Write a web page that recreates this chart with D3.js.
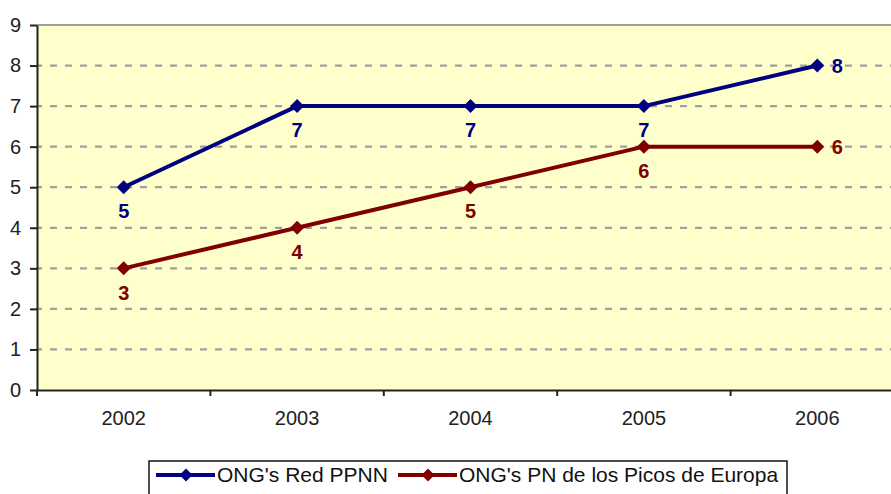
<!doctype html>
<html>
<head>
<meta charset="utf-8">
<script src="https://cdnjs.cloudflare.com/ajax/libs/d3/7.8.5/d3.min.js"></script>
<style>
  body { margin: 0; background: #fff; }
  svg { display: block; font-family: "Liberation Sans", Arial, sans-serif; }
</style>
</head>
<body>
<svg width="891" height="494"></svg>
<script>
var years = ["2002", "2003", "2004", "2005", "2006"];
var redPPNN = [5, 7, 7, 7, 8];
var picosEuropa = [3, 4, 5, 6, 6];
var seriesNames = ["ONG's Red PPNN", "ONG's PN de los Picos de Europa"];
var seriesColors = ["#000080", "#800000"];
var yTicks = [0, 1, 2, 3, 4, 5, 6, 7, 8, 9];

var svg = d3.select("svg");

// plot box (right side runs past the page edge, like the original)
var plotLeft = 37, plotRight = 904, plotTop = 25, plotBottom = 390;

var x = d3.scaleBand().domain(years).range([plotLeft, plotRight]);
var y = d3.scaleLinear().domain([0, 9]).range([plotBottom, plotTop]);

// plot background
svg.append("rect")
  .attr("x", plotLeft).attr("y", plotTop)
  .attr("width", plotRight - plotLeft).attr("height", plotBottom - plotTop)
  .style("fill", "#FFFFCC");

// grid
svg.append("g").selectAll("line")
  .data(yTicks.filter(d => d > 0 && d < 9))
  .enter().append("line")
  .attr("x1", plotLeft).attr("x2", plotRight)
  .attr("y1", d => y(d)).attr("y2", d => y(d))
  .style("stroke", "#A0A0A0")
  .style("stroke-width", 2.2)
  .style("stroke-dasharray", "7,8")
  .style("stroke-dashoffset", 2);

svg.append("line")
  .attr("x1", plotLeft).attr("x2", plotRight)
  .attr("y1", y(9)).attr("y2", y(9))
  .style("stroke", "#A0A0A0").style("stroke-width", 2);

// y axis
var yAxis = svg.append("g")
  .attr("transform", "translate(" + plotLeft + ",0)")
  .call(d3.axisLeft(y).tickValues(yTicks).tickSize(7).tickPadding(9).tickSizeOuter(0));
yAxis.select(".domain").style("stroke", "#222").style("stroke-width", 2);
yAxis.selectAll(".tick line").style("stroke", "#222").style("stroke-width", 2);
yAxis.selectAll("text").style("font-size", "20px").style("fill", "#222")
  .style("font-family", "Liberation Sans, Arial, sans-serif");

// x axis: labels at centers, ticks at boundaries
var xAxis = svg.append("g")
  .attr("transform", "translate(0," + plotBottom + ")")
  .call(d3.axisBottom(x).tickSize(0).tickPadding(21).tickSizeOuter(0));
xAxis.select(".domain").style("stroke", "#222").style("stroke-width", 2);
xAxis.selectAll("text").style("font-size", "20px").style("fill", "#222")
  .style("font-family", "Liberation Sans, Arial, sans-serif");

var bounds = years.map(d => x(d)).concat([x(years[years.length - 1]) + x.bandwidth()]);
xAxis.selectAll(".bound").data(bounds).enter().append("line")
  .attr("x1", d => d).attr("x2", d => d)
  .attr("y1", 0).attr("y2", 6)
  .style("stroke", "#222").style("stroke-width", 2);

// diamond shape
function diamond(cx, cy, r) {
  return "M" + cx + "," + (cy - r) + "L" + (cx + r) + "," + cy +
         "L" + cx + "," + (cy + r) + "L" + (cx - r) + "," + cy + "Z";
}

var series = [redPPNN, picosEuropa];
var cx = d => x(d) + x.bandwidth() / 2;

series.forEach(function (vals, s) {
  var pts = years.map((yr, i) => ({ yr: yr, v: vals[i], i: i }));
  var line = d3.line().x(d => cx(d.yr)).y(d => y(d.v));
  svg.append("path")
    .datum(pts)
    .attr("d", line)
    .style("fill", "none")
    .style("stroke", seriesColors[s])
    .style("stroke-width", 4)
    .style("stroke-linejoin", "round");

  svg.append("g").selectAll("path")
    .data(pts).enter().append("path")
    .attr("d", d => diamond(cx(d.yr), y(d.v), 7))
    .style("fill", seriesColors[s]);

  svg.append("g").selectAll("text")
    .data(pts).enter().append("text")
    .attr("x", d => d.i === pts.length - 1 ? cx(d.yr) + 20 : cx(d.yr))
    .attr("y", d => d.i === pts.length - 1 ? y(d.v) : y(d.v) + 24)
    .attr("dy", "0.36em")
    .attr("text-anchor", "middle")
    .style("font-size", "20px")
    .style("font-weight", "bold")
    .style("fill", seriesColors[s])
    .text(d => d.v);
});

// legend
var legend = svg.append("g");
legend.append("rect")
  .attr("x", 149).attr("y", 461)
  .attr("width", 638).attr("height", 60)
  .style("fill", "#fff").style("stroke", "#111").style("stroke-width", 1.5);

var legendX = [156, 398];
seriesNames.forEach(function (name, s) {
  var lx = legendX[s];
  legend.append("line")
    .attr("x1", lx).attr("x2", lx + 59)
    .attr("y1", 475).attr("y2", 475)
    .style("stroke", seriesColors[s]).style("stroke-width", 4);
  legend.append("path")
    .attr("d", diamond(lx + 30, 475, 6.5))
    .style("fill", seriesColors[s]);
  legend.append("text")
    .attr("x", lx + 61).attr("y", 475).attr("dy", "0.35em")
    .style("font-size", "21px").style("fill", "#111")
    .text(name);
});
</script>
</body>
</html>
